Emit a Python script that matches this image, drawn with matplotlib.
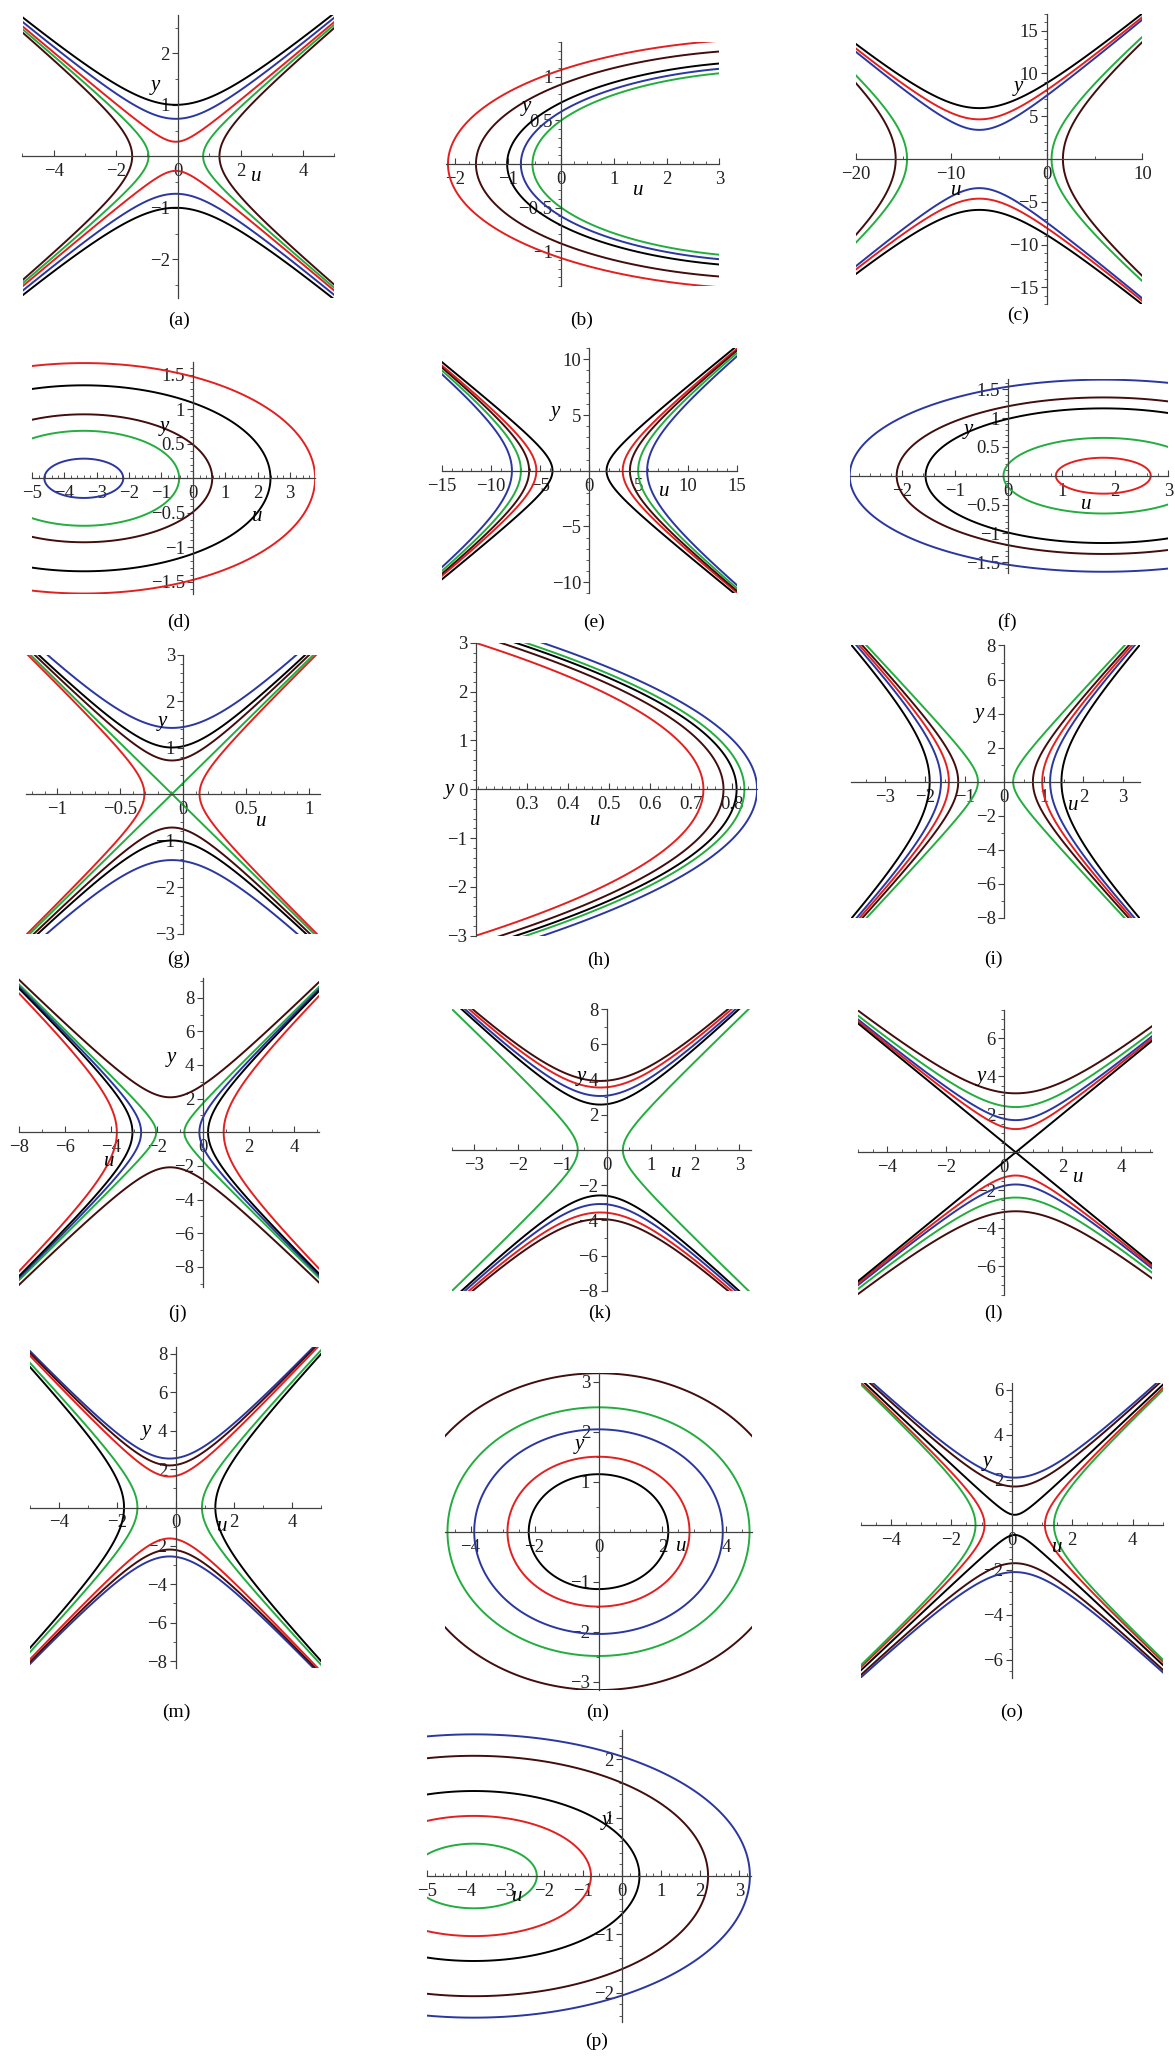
import numpy as np
import matplotlib
matplotlib.use('Agg')
import matplotlib.pyplot as plt
from matplotlib.ticker import MultipleLocator

W, H = 1175, 2058

BLACK = '#000000'
RED = '#e3201f'
BLUE = '#2a37a0'
GREEN = '#22ad3e'
BROWN = '#420d0d'
AXIS = '#404040'

# every curve is a level set of  cu*(u-u0)^2 + cy*y^2
a_cu, a_cy, a_u0 = -0.26, 1.0, -0.08
a_levels = [1.0, 0.53, 0.08, -0.2, -0.51]
a_colors = [BLACK, BLUE, RED, GREEN, BROWN]

b_cu, b_cy, b_u0 = 1.0, 19.4, 4.19
b_levels = [40.07, 33.64, 27.14, 24.5, 22.37]
b_colors = [RED, BROWN, BLACK, BLUE, GREEN]

c_cu, c_cy, c_u0 = -0.873, 1.0, -7.05
c_levels = [35.4, 21.5, 11.6, -49.9, -66.8]
c_colors = [BLACK, RED, BLUE, GREEN, BROWN]

d_cu, d_cy, d_u0 = 1.0, 18.5, -3.4
d_levels = [1.5, 8.76, 15.9, 33.6, 51.6]
d_colors = [BLUE, GREEN, BROWN, BLACK, RED]

e_cu, e_cy, e_u0 = 1.0, -1.98, -1.0
e_levels = [7.56, 19.3, 26.3, 35.6, 47.3]
e_colors = [BLACK, RED, BROWN, GREEN, BLUE]

f_cu, f_cy, f_u0 = 1.0, 8.15, 1.78
f_levels = [0.79, 3.5, 11.1, 15.0, 22.6]
f_colors = [RED, GREEN, BLACK, BROWN, BLUE]

g_cu, g_cy, g_u0 = -7.1, 1.0, -0.09
g_levels = [2.02, 1.0, 0.52, 0.0, -0.34]
g_colors = [BLUE, BLACK, BROWN, GREEN, RED]

# (h) parabolas  u = vertex - k*y^2
h_vertex = [0.731, 0.78, 0.812, 0.831, 0.862]
h_k = [0.0617, 0.0603, 0.0598, 0.0592, 0.0581]
h_colors = [RED, BROWN, BLACK, GREEN, BLUE]

i_cu, i_cy, i_u0 = 1.0, -0.1626, -0.22
i_levels = [2.77, 1.9, 1.39, 0.89, 0.198]
i_colors = [BLACK, BLUE, RED, BROWN, GREEN]

j_cu, j_cy, j_u0 = -1.79, 1.0, -1.42
j_levels = [4.33, -0.677, -2.89, -4.87, -9.72]
j_colors = [BROWN, GREEN, BLUE, BLACK, RED]

k_cu, k_cy, k_u0 = -5.85, 1.0, -0.14
k_levels = [15.4, 12.6, 9.42, 6.66, -1.52]
k_colors = [BROWN, RED, BLUE, BLACK, GREEN]

l_cu, l_cy, l_u0 = -1.575, 1.0, 0.4
l_levels = [9.61, 5.66, 2.86, 1.49, 0.0]
l_colors = [BROWN, GREEN, BLUE, RED, BLACK]

m_cu, m_cy, m_u0 = -2.6, 1.0, -0.2
m_levels = [6.5, 4.8, 2.6, -3.2, -6.4]
m_colors = [BLUE, BROWN, RED, GREEN, BLACK]

n_cu, n_cy, n_u0 = 1.0, 3.6, 0.0
n_levels = [4.76, 8.1, 15.1, 22.3, 36.2]
n_colors = [BLACK, RED, BLUE, GREEN, BROWN]

o_cu, o_cy, o_u0 = -1.6, 1.0, 0.1
o_levels = [4.4, 2.9, 0.2, -1.6, -2.7]
o_colors = [BLUE, BROWN, BLACK, RED, GREEN]

p_cu, p_cy, p_u0 = 1.0, 8.5, -3.8
p_levels = [2.6, 9.0, 18.0, 36.0, 50.0]
p_colors = [GREEN, RED, BLACK, BROWN, BLUE]

# layout: pixel box (left, right, top, bottom) of the data area, limits, ticks
LAYOUT = {
    'a': dict(box=(22.5, 334.1, 14.7, 297.9), xlim=(-5, 5), ylim=(-2.75, 2.75),
              xt=[-4, -2, 0, 2, 4], xm=1, yt=[-2, -1, 1, 2], ym=0.5,
              ulab=(2.5, -0.4), ylab=(-0.75, 1.38), cap=(179, 320)),
    'b': dict(box=(446.4, 719.4, 41.8, 286.2), xlim=(-2.17, 3), ylim=(-1.4, 1.4),
              xt=[-2, -1, 0, 1, 2, 3], xm=0.25, yt=[-1, -0.5, 0.5, 1], ym=0.1,
              ulab=(1.46, -0.3), ylab=(-0.65, 0.66), cap=(582, 320)),
    'c': dict(box=(855.5, 1142.3, 13.6, 304.4), xlim=(-20, 10), ylim=(-17, 17),
              xt=[-20, -10, 0, 10], xm=5, yt=[-15, -10, -5, 5, 10, 15], ym=1,
              ulab=(-9.5, -3.7), ylab=(-3.0, 8.5), cap=(1018, 315)),
    'd': dict(box=(32.3, 315.0, 362.4, 594.2), xlim=(-5, 3.78), ylim=(-1.68, 1.68),
              xt=[-5, -4, -3, -2, -1, 0, 1, 2, 3], xm=0.2,
              yt=[-1.5, -1, -0.5, 0.5, 1, 1.5], ym=0.1,
              ulab=(2.0, -0.55), ylab=(-0.9, 0.75), cap=(179, 622)),
    'e': dict(box=(441.9, 736.8, 348.2, 593.2), xlim=(-15, 15), ylim=(-11, 11),
              xt=[-15, -10, -5, 0, 5, 10, 15], xm=1, yt=[-10, -5, 5, 10], ym=1,
              ulab=(7.6, -1.9), ylab=(-3.5, 5.3), cap=(594, 622)),
    'f': dict(box=(849.9, 1168.4, 378.8, 572.6), xlim=(-2.97, 3), ylim=(-1.68, 1.68),
              xt=[-2, -1, 0, 1, 2, 3], xm=0.2, yt=[-1.5, -1, -0.5, 0.5, 1, 1.5], ym=0.1,
              ulab=(1.45, -0.5), ylab=(-0.75, 0.8), cap=(1007, 622)),
    'g': dict(box=(25.8, 320.0, 654.5, 933.5), xlim=(-1.25, 1.085), ylim=(-3, 3),
              xt=[-1, -0.5, 0, 0.5, 1], xm=0.1, yt=[-3, -2, -1, 1, 2, 3], ym=0.2,
              ulab=(0.62, -0.6), ylab=(-0.17, 1.55), cap=(179, 959)),
    'h': dict(box=(475.9, 757.1, 642.9, 935.7), xlim=(0.176, 0.862), ylim=(-3, 3),
              xt=[0.3, 0.4, 0.5, 0.6, 0.7, 0.8], xm=0.02, yt=[-3, -2, -1, 0, 1, 2, 3],
              ym=0.2, yaxis=0.176, ulab=(0.467, -0.63), ylab=(0.112, 0.0), cap=(599, 960)),
    'i': dict(box=(851.4, 1140.1, 645.5, 917.9), xlim=(-3.86, 3.43), ylim=(-8, 8),
              xt=[-3, -2, -1, 0, 1, 2, 3], xm=0.5, yt=[-8, -6, -4, -2, 2, 4, 6, 8], ym=1,
              ulab=(1.74, -1.4), ylab=(-0.62, 4.0), cap=(993, 959)),
    'j': dict(box=(19.4, 318.8, 977.5, 1287.1), xlim=(-8, 5.06), ylim=(-9.2, 9.2),
              xt=[-8, -6, -4, -2, 0, 2, 4], xm=1, yt=[-8, -6, -4, -2, 2, 4, 6, 8], ym=1,
              ulab=(-4.07, -1.75), ylab=(-1.38, 4.46), cap=(177, 1313)),
    'k': dict(box=(451.5, 750.9, 1009.2, 1290.8), xlim=(-3.5, 3.26), ylim=(-8, 8),
              xt=[-3, -2, -1, 0, 1, 2, 3], xm=0.5, yt=[-8, -6, -4, -2, 2, 4, 6, 8], ym=1,
              ulab=(1.58, -1.3), ylab=(-0.56, 4.2), cap=(600, 1313)),
    'l': dict(box=(858.0, 1151.5, 1009.6, 1295.0), xlim=(-5, 5.05), ylim=(-7.5, 7.5),
              xt=[-4, -2, 0, 2, 4], xm=0.5, yt=[-6, -4, -2, 2, 4, 6], ym=0.5,
              ulab=(2.54, -1.3), ylab=(-0.77, 3.97), cap=(993, 1313)),
    'm': dict(box=(30, 321, 1347, 1668), xlim=(-5, 5), ylim=(-8.36, 8.36),
              xt=[-4, -2, 0, 2, 4], xm=1, yt=[-8, -6, -4, -2, 2, 4, 6, 8], ym=1,
              ulab=(1.6, -1.0), ylab=(-1.0, 4.0), cap=(176, 1712)),
    'n': dict(box=(445, 752, 1373.3, 1690), xlim=(-4.8, 4.8), ylim=(-3.17, 3.17),
              xt=[-4, -2, 0, 2, 4], xm=0.5, yt=[-3, -2, -1, 1, 2, 3], ym=0.5,
              ulab=(2.6, -0.3), ylab=(-0.6, 1.75), cap=(598, 1712)),
    'o': dict(box=(860.7, 1162.7, 1383, 1678), xlim=(-5, 5), ylim=(-6.8, 6.3),
              xt=[-4, -2, 0, 2, 4], xm=0.5, yt=[-6, -4, -2, 2, 4, 6], ym=0.5,
              ulab=(1.5, -1.0), ylab=(-0.8, 2.8), cap=(1012, 1712)),
    'p': dict(box=(427, 751, 1730, 2022), xlim=(-5, 3.3), ylim=(-2.5, 2.5),
              xt=[-5, -4, -3, -2, -1, 0, 1, 2, 3], xm=0.2, yt=[-2, -1, 1, 2], ym=0.2,
              ulab=(-2.7, -0.35), ylab=(-0.4, 0.95), cap=(597, 2041)),
}


def fmt(v):
    s = str(int(v)) if float(v).is_integer() else ('%g' % v)
    return s.replace('-', '\u2212')


def grid(p, n=900):
    x0, x1 = p['xlim']
    y0, y1 = p['ylim']
    dx, dy = (x1 - x0) * 0.03, (y1 - y0) * 0.03
    u = np.linspace(x0 - dx, x1 + dx, n)
    y = np.linspace(y0 - dy, y1 + dy, n + 1)
    return np.meshgrid(u, y)


def draw_conic(ax, p, cu, cy, u0, levels, colors):
    U, Y = grid(p)
    F = cu * (U - u0) ** 2 + cy * Y ** 2
    for lev, col in zip(levels, colors):
        ax.contour(U, Y, F, levels=[lev], colors=[col], linewidths=1.4,
                   linestyles='solid')


def draw_parabolas(ax, p, vertex, k, colors):
    U, Y = grid(p)
    for v, kk, col in zip(vertex, k, colors):
        ax.contour(U, Y, U + kk * Y ** 2, levels=[v], colors=[col], linewidths=1.4,
                   linestyles='solid')


def make_axes(fig, name):
    p = LAYOUT[name]
    L, R, T, B = p['box']
    ax = fig.add_axes([L / W, 1 - B / H, (R - L) / W, (B - T) / H])
    ax.set_xlim(p['xlim'])
    ax.set_ylim(p['ylim'])
    ax.patch.set_alpha(0)
    ax.spines['top'].set_visible(False)
    ax.spines['right'].set_visible(False)
    ax.spines['bottom'].set_position(('data', 0))
    ax.spines['left'].set_position(('data', p.get('yaxis', 0)))
    for s in ('bottom', 'left'):
        ax.spines[s].set_color(AXIS)
        ax.spines[s].set_linewidth(0.9)
    ax.set_xticks(p['xt'])
    ax.set_xticklabels([fmt(v) for v in p['xt']])
    ax.set_yticks(p['yt'])
    ax.set_yticklabels([fmt(v) for v in p['yt']])
    ax.xaxis.set_minor_locator(MultipleLocator(p['xm']))
    ax.yaxis.set_minor_locator(MultipleLocator(p['ym']))
    ax.tick_params(axis='x', which='both', direction='in', colors=AXIS,
                   labelcolor='#222222', labelsize=13.5, pad=5)
    ax.tick_params(axis='y', which='both', direction='out', colors=AXIS,
                   labelcolor='#222222', labelsize=13.5, pad=2)
    ax.tick_params(which='major', length=4, width=0.8)
    ax.tick_params(which='minor', length=2, width=0.6)
    ax.text(*p['ulab'], 'u', style='italic', fontsize=15, ha='center', va='center')
    ax.text(*p['ylab'], 'y', style='italic', fontsize=15, ha='center', va='center')
    cx, cyy = p['cap']
    fig.text(cx / W, 1 - cyy / H, '(%s)' % name, ha='center', va='center', fontsize=14)
    return ax, p


def main():
    plt.rcParams['font.family'] = ['Liberation Serif', 'DejaVu Serif']
    fig = plt.figure(figsize=(W / 100, H / 100), dpi=100)

    conics = {
        'a': (a_cu, a_cy, a_u0, a_levels, a_colors),
        'b': (b_cu, b_cy, b_u0, b_levels, b_colors),
        'c': (c_cu, c_cy, c_u0, c_levels, c_colors),
        'd': (d_cu, d_cy, d_u0, d_levels, d_colors),
        'e': (e_cu, e_cy, e_u0, e_levels, e_colors),
        'f': (f_cu, f_cy, f_u0, f_levels, f_colors),
        'g': (g_cu, g_cy, g_u0, g_levels, g_colors),
        'i': (i_cu, i_cy, i_u0, i_levels, i_colors),
        'j': (j_cu, j_cy, j_u0, j_levels, j_colors),
        'k': (k_cu, k_cy, k_u0, k_levels, k_colors),
        'l': (l_cu, l_cy, l_u0, l_levels, l_colors),
        'm': (m_cu, m_cy, m_u0, m_levels, m_colors),
        'n': (n_cu, n_cy, n_u0, n_levels, n_colors),
        'o': (o_cu, o_cy, o_u0, o_levels, o_colors),
        'p': (p_cu, p_cy, p_u0, p_levels, p_colors),
    }
    for name in 'abcdefghijklmnop':
        ax, p = make_axes(fig, name)
        if name == 'h':
            draw_parabolas(ax, p, h_vertex, h_k, h_colors)
        else:
            draw_conic(ax, p, *conics[name])

    fig.savefig('out.png', dpi=100)


if __name__ == '__main__':
    main()
